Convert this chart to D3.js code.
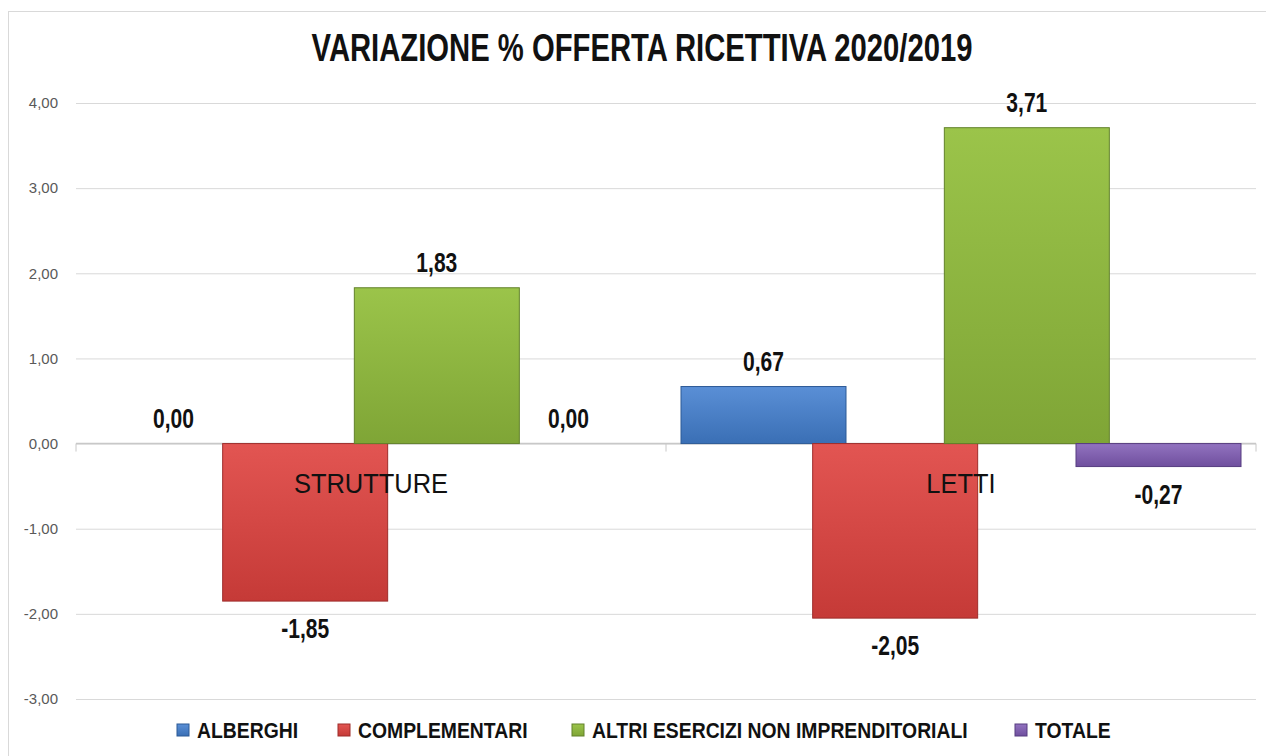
<!doctype html>
<html>
<head>
<meta charset="UTF-8">
<title>Variazione % offerta ricettiva</title>
<script src="https://d3js.org/d3.v7.min.js"></script>
<style>
  body { margin: 0; background: #fff; }
  text { font-family: "Liberation Sans", Arial, sans-serif; }
</style>
</head>
<body>
<script>
// dati
var categories = ["STRUTTURE", "LETTI"];
var series = ["ALBERGHI", "COMPLEMENTARI", "ALTRI ESERCIZI NON IMPRENDITORIALI", "TOTALE"];
var alberghi = [0.00, 0.67];
var complementari = [-1.85, -2.05];
var altri = [1.83, 3.71];
var totale = [0.00, -0.27];
var yTicks = [-3, -2, -1, 0, 1, 2, 3, 4];

var values = [alberghi, complementari, altri, totale];
var colors = [
  { top: "#5a8fd6", bot: "#3a6fb5", edge: "#2d5a96" },
  { top: "#e25552", bot: "#c53a37", edge: "#9e2d2b" },
  { top: "#9bc44a", bot: "#7fa536", edge: "#62822a" },
  { top: "#9273c0", bot: "#6f4f9e", edge: "#573d80" }
];

var w = 1266, h = 756;
var left = 76, right = 1256, barW = 165;

var svg = d3.select("body").append("svg").attr("width", w).attr("height", h);

// testo "stretto": scala orizzontale per imitare Arial Narrow
function narrow(parent, x, y, size, bold, sx, anchor, txt) {
  var g = parent.append("g").attr("transform", "translate(" + x + "," + y + ") scale(" + sx + ",1)");
  g.append("text").attr("text-anchor", anchor)
    .style("font-size", size + "px").style("font-weight", bold ? "bold" : "normal")
    .attr("fill", "#111").text(txt);
  return g;
}

// gradienti
var defs = svg.append("defs");
colors.forEach(function (c, i) {
  var g = defs.append("linearGradient").attr("id", "g" + i)
    .attr("x1", 0).attr("y1", 0).attr("x2", 0).attr("y2", 1);
  g.append("stop").attr("offset", "0%").attr("stop-color", c.top);
  g.append("stop").attr("offset", "100%").attr("stop-color", c.bot);
});

// cornice
svg.append("rect").attr("x", 8.5).attr("y", 11.5).attr("width", 1270).attr("height", 760)
  .attr("fill", "none").attr("stroke", "#d9d9d9");

var y = d3.scaleLinear().domain([-3, 4]).range([699, 103]);
var x0 = d3.scaleBand().domain(categories).range([left, right]);
var x1 = d3.scalePoint().domain(series).range([15 + barW / 2, x0.bandwidth() - 15 - barW / 2]);

// griglia + etichette asse y
var yAxis = d3.axisLeft(y).tickValues(yTicks).tickSize(-(right - left)).tickPadding(18)
  .tickFormat(function (d) { return d3.format(".2f")(d).replace(".", ",").replace("−", "-"); });
var ga = svg.append("g").attr("transform", "translate(" + left + ",0)").call(yAxis);
ga.select(".domain").remove();
ga.selectAll(".tick line").attr("stroke", "#d9d9d9");
ga.selectAll(".tick text").attr("fill", "#595959")
  .style("font-size", "15px").style("font-family", "'Liberation Sans', Arial, sans-serif");

// asse zero
svg.append("line").attr("x1", left).attr("x2", right).attr("y1", y(0)).attr("y2", y(0))
  .attr("stroke", "#c8c8c8").attr("stroke-width", 1.5);
svg.selectAll(".cattick").data(d3.range(categories.length + 1)).enter().append("line")
  .attr("x1", function (d) { return left + d * x0.bandwidth(); })
  .attr("x2", function (d) { return left + d * x0.bandwidth(); })
  .attr("y1", y(0)).attr("y2", y(0) + 8).attr("stroke", "#c8c8c8");

// barre
var bars = [];
categories.forEach(function (c, ci) {
  series.forEach(function (s, si) {
    bars.push({ cat: c, s: s, si: si, v: values[si][ci] });
  });
});

var gb = svg.append("g");
gb.selectAll("rect").data(bars).enter().append("rect")
  .attr("x", function (d) { return x0(d.cat) + x1(d.s) - barW / 2; })
  .attr("y", function (d) { return y(Math.max(0, d.v)); })
  .attr("width", barW)
  .attr("height", function (d) { return Math.abs(y(d.v) - y(0)); })
  .attr("fill", function (d) { return "url(#g" + d.si + ")"; })
  .attr("stroke", function (d) { return colors[d.si].edge; })
  .attr("stroke-width", function (d) { return d.v === 0 ? 0 : 1; });

// etichette categorie
categories.forEach(function (c) {
  narrow(svg, x0(c) + x0.bandwidth() / 2, y(0) + 49, 28, false, 0.91, "middle", c);
});

// etichette valori
bars.forEach(function (d) {
  var ty = d.v >= 0 ? y(d.v) - 16 : y(d.v) + 37;
  var t = d3.format(".2f")(d.v).replace(".", ",").replace("−", "-");
  narrow(svg, x0(d.cat) + x1(d.s), ty, 27, true, 0.78, "middle", t);
});

// titolo
narrow(svg, 642, 61, 39, true, 0.75, "middle", "VARIAZIONE % OFFERTA RICETTIVA 2020/2019");

// legenda
var legX = [177, 338, 572, 1015];
series.forEach(function (s, i) {
  svg.append("rect").attr("x", legX[i]).attr("y", 724).attr("width", 12).attr("height", 12)
    .attr("fill", "url(#g" + i + ")").attr("stroke", colors[i].edge);
  narrow(svg, legX[i] + 20, 738, 22, true, 0.88, "start", s);
});
</script>
</body>
</html>
